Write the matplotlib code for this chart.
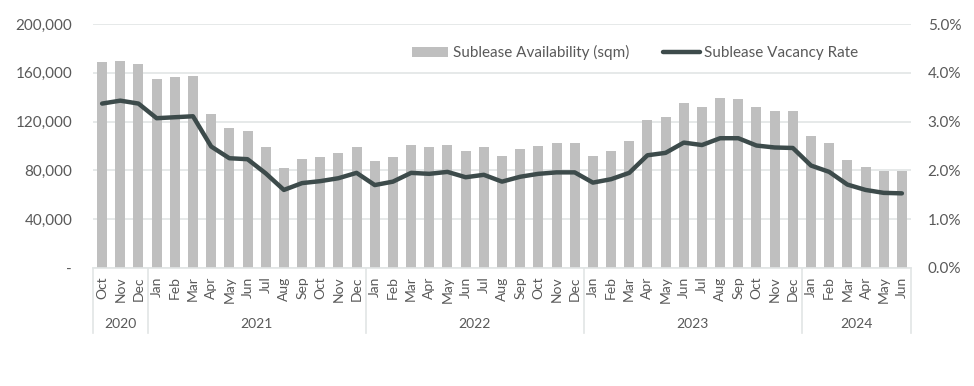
import matplotlib.pyplot as plt
from matplotlib.ticker import FuncFormatter
import matplotlib.transforms as mtransforms

plt.rcParams['font.family'] = ['Lato', 'DejaVu Sans']

# Data
months = ['Oct', 'Nov', 'Dec'] + ['Jan', 'Feb', 'Mar', 'Apr', 'May', 'Jun',
                                  'Jul', 'Aug', 'Sep', 'Oct', 'Nov', 'Dec'] * 3 + \
         ['Jan', 'Feb', 'Mar', 'Apr', 'May', 'Jun']
years = ['2020', '2021', '2022', '2023', '2024']
year_counts = [3, 12, 12, 12, 6]

availability = [169000, 170000, 167000,
                155000, 156500, 157000, 126000, 114500, 112500, 99000, 82000, 89000, 91000, 94500, 99000,
                88000, 91000, 101000, 99000, 101000, 96000, 99000, 92000, 97500, 100000, 102500, 102500,
                91500, 96000, 104000, 121000, 124000, 135000, 131700, 139000, 138500, 131700, 129000, 129000,
                108000, 102500, 88500, 83000, 79500, 79500]
vacancy = [3.37, 3.43, 3.37,
           3.07, 3.09, 3.11, 2.49, 2.25, 2.23, 1.94, 1.60, 1.74, 1.78, 1.84, 1.95,
           1.70, 1.77, 1.95, 1.93, 1.97, 1.86, 1.91, 1.77, 1.87, 1.93, 1.96, 1.96,
           1.75, 1.82, 1.95, 2.31, 2.36, 2.57, 2.52, 2.66, 2.66, 2.51, 2.47, 2.46,
           2.10, 1.97, 1.71, 1.60, 1.54, 1.53]

text_col = '#595959'
grid_col = '#e1e5e5'
bar_col = '#bfbfbf'
line_col = '#3d4b4b'

fig = plt.figure(figsize=(9.74, 3.86), dpi=100)
ax = fig.add_axes([0.0955, 0.3057, 0.8398, 0.632])
x = list(range(len(months)))

bars = ax.bar(x, availability, width=0.55, color=bar_col, zorder=2,
              label='Sublease Availability (sqm)')
ax.set_xlim(-0.5, len(months) - 0.5)
ax.set_ylim(0, 200000)
ax.set_yticks(range(0, 200001, 40000))
ax.yaxis.set_major_formatter(FuncFormatter(lambda v, p: '-' if v == 0 else f'{int(v):,}'))
ax.grid(axis='y', color=grid_col, linewidth=1.2, zorder=0)
ax.set_axisbelow(True)
for s in ['top', 'right', 'left']:
    ax.spines[s].set_visible(False)
ax.spines['bottom'].set_color(grid_col)
ax.spines['bottom'].set_linewidth(1.2)
ax.tick_params(axis='y', length=0, pad=15, labelsize=11, labelcolor=text_col)
ax.set_xticks(x)
ax.set_xticklabels(months, rotation=90, fontsize=10, color=text_col)
ax.tick_params(axis='x', length=0, pad=6)

ax2 = ax.twinx()
line, = ax2.plot(x, vacancy, color=line_col, linewidth=3.2, zorder=3,
                 solid_capstyle='round', label='Sublease Vacancy Rate')
ax2.set_ylim(0, 5)
ax2.set_yticks([0, 1, 2, 3, 4, 5])
ax2.yaxis.set_major_formatter(FuncFormatter(lambda v, p: f'{v:.1f}%'))
for s in ax2.spines.values():
    s.set_visible(False)
ax2.tick_params(axis='y', length=0, pad=12, labelsize=11, labelcolor=text_col)

# year groups
trans = mtransforms.blended_transform_factory(ax.transData, ax.transAxes)
start = -0.5
ax.plot([start, start], [0, -0.265], transform=trans, color=grid_col, lw=1.2, clip_on=False)
for yr, n in zip(years, year_counts):
    end = start + n
    ax.text((start + end) / 2, -0.23, yr, transform=trans, ha='center', va='center',
            fontsize=10, color=text_col)
    ax.plot([end, end], [0, -0.265], transform=trans, color=grid_col, lw=1.2, clip_on=False)
    start = end

fig.legend(handles=[bars, line], loc='center', bbox_to_anchor=(0.652, 0.863), ncol=2,
           frameon=False, fontsize=11, handlelength=2.4, handletextpad=0.3,
           columnspacing=2.2, labelcolor=text_col)

fig.savefig('out.png', dpi=100)
